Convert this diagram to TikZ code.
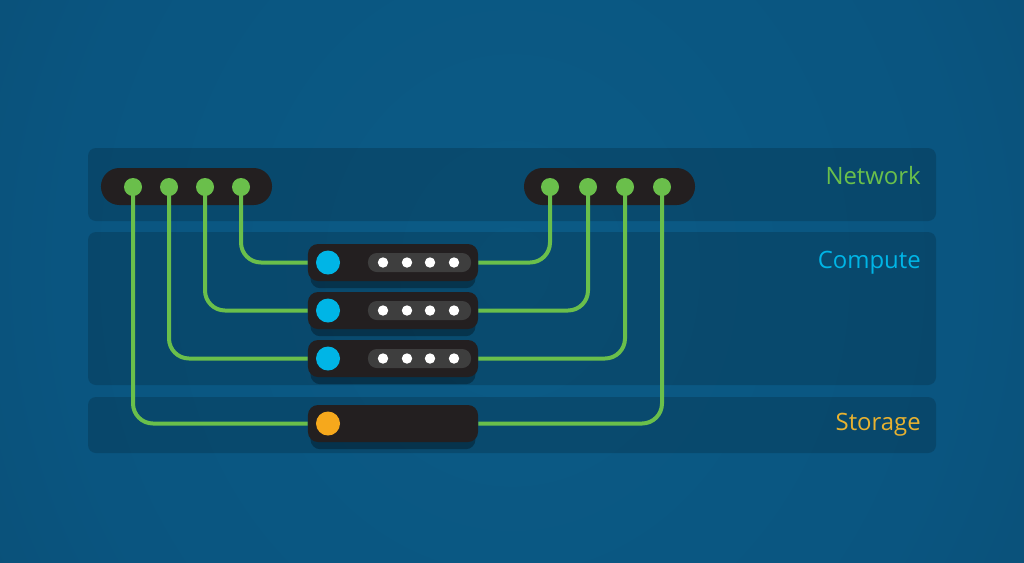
\documentclass[tikz,border=0pt]{standalone}
\usepackage{fontspec}
\setmainfont{Open Sans}
\usetikzlibrary{shadows}
\definecolor{bgin}{HTML}{0B5B86}
\definecolor{bgmid}{HTML}{0A5580}
\definecolor{bgedge}{HTML}{094465}
\definecolor{bgout}{HTML}{083A58}
\definecolor{linkgreen}{HTML}{6ABF4B}
\definecolor{boxdark}{HTML}{231F20}
\definecolor{pillgray}{HTML}{3E3E3E}
\definecolor{cpublue}{HTML}{00B5E6}
\definecolor{storeorange}{HTML}{F6A81C}
\definecolor{storetext}{HTML}{E8B230}
\pgfdeclareradialshading{bgglow}{\pgfpoint{0bp}{0bp}}{color(0bp)=(bgin); color(22bp)=(bgmid); color(50bp)=(bgedge); color(72bp)=(bgout)}
\begin{document}
\begin{tikzpicture}[x=0.025cm, y=-0.025cm,
	band/.style={fill=black, fill opacity=0.16, rounded corners=0.2cm},
	switchbox/.style={fill=boxdark, rounded corners=0.46cm, minimum width=4.275cm, minimum height=0.925cm, inner sep=0pt},
	port/.style={circle, fill=linkgreen, minimum size=0.45cm, inner sep=0pt},
	server/.style={fill=boxdark, rounded corners=0.25cm, minimum width=4.25cm, minimum height=0.925cm, inner sep=0pt,
		drop shadow={shadow xshift=0cm, shadow yshift=-0.2cm, shadow scale=0.97, opacity=0.3, fill=black}},
	led/.style={circle, minimum size=0.6cm, inner sep=0pt},
	pill/.style={fill=pillgray, rounded corners=0.22cm, minimum width=2.575cm, minimum height=0.475cm, inner sep=0pt},
	dot/.style={circle, fill=white, minimum size=0.26cm, inner sep=0pt},
	link/.style={draw=linkgreen, line width=0.1cm, rounded corners=0.5cm},
	lbl/.style={anchor=base east, inner sep=0pt, font=\fontsize{17}{20}\selectfont}]

	\useasboundingbox (0,0) rectangle (1024,562);
	\begin{scope}
		\clip (0,0) rectangle (1024,562);
		\shade[shading=bgglow] (0,-320) rectangle (1024,860);
	\end{scope}

	\fill[band] (88,148) rectangle (936,221);
	\fill[band] (88,232) rectangle (936,385);
	\fill[band] (88,397) rectangle (936,453);

	\node[lbl, text=linkgreen] (netlbl) at (921,184) {Network};
	\node[lbl, text=cpublue] (cpulbl) at (921,268) {Compute};
	\node[lbl, text=storetext] (storlbl) at (921,430) {Storage};

	\node[switchbox] (swL) at (186.5,186.5) {};
	\node[switchbox] (swR) at (609.5,186.5) {};
	\node[port] (pL1) at (133,187) {};
	\node[port] (pL2) at (169,187) {};
	\node[port] (pL3) at (205,187) {};
	\node[port] (pL4) at (241,187) {};
	\node[port] (pR1) at (550,187) {};
	\node[port] (pR2) at (588,187) {};
	\node[port] (pR3) at (625,187) {};
	\node[port] (pR4) at (662,187) {};

	\foreach \y/\n in {262.5/1, 310.5/2, 358.5/3} {
		\node[server] (srv\n) at (393,\y) {};
		\node[led, fill=cpublue] (led\n) at (328,\y) {};
		\node[pill] (pill\n) at (419.5,\y) {};
		\foreach \x [count=\i] in {383,407,430,454}
			\node[dot] (dot\n\i) at (\x,\y) {};
	}
	\node[server] (stor) at (393,423.5) {};
	\node[led, fill=storeorange] (ledS) at (328,423.5) {};

	\draw[link] (pL4.center) |- (srv1.west);
	\draw[link] (pL3.center) |- (srv2.west);
	\draw[link] (pL2.center) |- (srv3.west);
	\draw[link] (pL1.center) |- (stor.west);
	\draw[link] (srv1.east) -| (pR1.center);
	\draw[link] (srv2.east) -| (pR2.center);
	\draw[link] (srv3.east) -| (pR3.center);
	\draw[link] (stor.east) -| (pR4.center);
\end{tikzpicture}
\end{document}
